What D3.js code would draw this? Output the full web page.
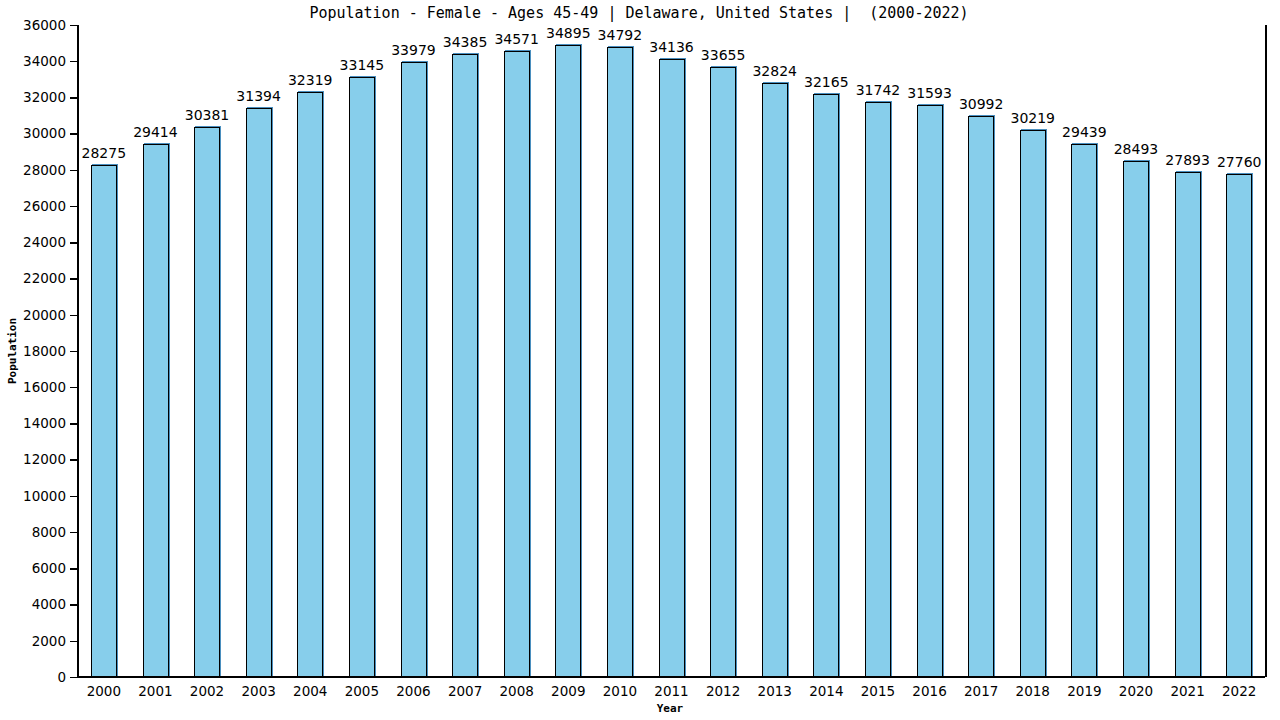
<!DOCTYPE html>
<html>
<head>
<meta charset="utf-8">
<script src="https://cdn.jsdelivr.net/npm/d3@7"></script>
<style>
  body { margin: 0; background: #fff; }
  text { fill: #000; }
</style>
</head>
<body>
<script>
var years = ["2000","2001","2002","2003","2004","2005","2006","2007","2008","2009","2010","2011",
             "2012","2013","2014","2015","2016","2017","2018","2019","2020","2021","2022"];
var population = [28275,29414,30381,31394,32319,33145,33979,34385,34571,34895,34792,34136,
                  33655,32824,32165,31742,31593,30992,30219,29439,28493,27893,27760];
var yTicks = d3.range(0, 36001, 2000);

var width = 1280, height = 720;
var plotLeft = 78, plotRight = 1265, plotTop = 25, plotBottom = 677;

var svg = d3.select("body").append("svg")
    .attr("width", width)
    .attr("height", height)
    .attr("shape-rendering", "crispEdges");

var x = d3.scaleBand()
    .domain(years)
    .range([plotLeft, plotRight])
    .paddingInner(0.5)
    .paddingOuter(0.25);

var y = d3.scaleLinear()
    .domain([0, 36000])
    .range([plotBottom, plotTop]);

// title
svg.append("text")
    .attr("x", 639)
    .attr("y", 18)
    .attr("text-anchor", "middle")
    .style("font-family", "DejaVu Sans Mono")
    .style("font-size", "15px")
    .style("white-space", "pre")
    .text("Population - Female - Ages 45-49 | Delaware, United States |  (2000-2022)");

// right border line
svg.append("line")
    .attr("x1", plotRight + 0.5).attr("x2", plotRight + 0.5)
    .attr("y1", plotTop).attr("y2", plotBottom)
    .attr("stroke", "#000")
    .attr("stroke-width", 2);

// bars: shadow then fill
var bars = svg.selectAll("g.bar")
    .data(years)
    .enter()
    .append("g")
    .attr("class", "bar");

bars.append("rect")
    .attr("x", function(d) { return Math.round(x(d)) + 1; })
    .attr("y", function(d, i) { return Math.round(y(population[i])) - 1; })
    .attr("width", Math.round(x.bandwidth()))
    .attr("height", function(d, i) { return plotBottom - Math.round(y(population[i])) + 1; })
    .attr("fill", "#4a8fbf");

bars.append("rect")
    .attr("x", function(d) { return Math.round(x(d)) + 0.5; })
    .attr("y", function(d, i) { return Math.round(y(population[i])) + 0.5; })
    .attr("width", Math.round(x.bandwidth()) - 1)
    .attr("height", function(d, i) { return plotBottom - Math.round(y(population[i])); })
    .attr("fill", "#87ceeb")
    .attr("stroke", "#000")
    .attr("stroke-width", 1.5);

bars.append("text")
    .attr("x", function(d) { return x(d) + x.bandwidth() / 2; })
    .attr("y", function(d, i) { return y(population[i]) - 7; })
    .attr("text-anchor", "middle")
    .style("font-family", "DejaVu Sans")
    .style("font-size", "14px")
    .text(function(d, i) { return population[i]; });

// axes
var yAxis = svg.append("g")
    .attr("transform", "translate(" + plotLeft + ",0)")
    .call(d3.axisLeft(y).tickValues(yTicks).tickSize(8).tickPadding(4).tickFormat(d3.format("d")));

var xAxis = svg.append("g")
    .attr("transform", "translate(0," + plotBottom + ")")
    .call(d3.axisBottom(x).tickSize(0).tickPadding(9));

[yAxis, xAxis].forEach(function(a) {
  a.select(".domain").attr("stroke", "#000").attr("stroke-width", 2);
  a.selectAll("line").attr("stroke", "#000").attr("stroke-width", 1.5);
  a.selectAll("text")
    .style("font-family", "DejaVu Sans")
    .style("font-size", "13.5px")
    .attr("fill", "#000");
});
yAxis.select(".domain").attr("d", "M0," + plotTop + "V" + plotBottom);
xAxis.select(".domain").attr("d", "M" + plotLeft + ",0H" + plotRight);

// axis titles
svg.append("text")
    .attr("x", 670)
    .attr("y", 712)
    .attr("text-anchor", "middle")
    .style("font-family", "DejaVu Sans Mono")
    .style("font-size", "11px")
    .style("font-weight", "bold")
    .text("Year");

svg.append("text")
    .attr("transform", "translate(16,351) rotate(-90)")
    .attr("text-anchor", "middle")
    .style("font-family", "DejaVu Sans Mono")
    .style("font-size", "11px")
    .style("font-weight", "bold")
    .text("Population");
</script>
</body>
</html>
